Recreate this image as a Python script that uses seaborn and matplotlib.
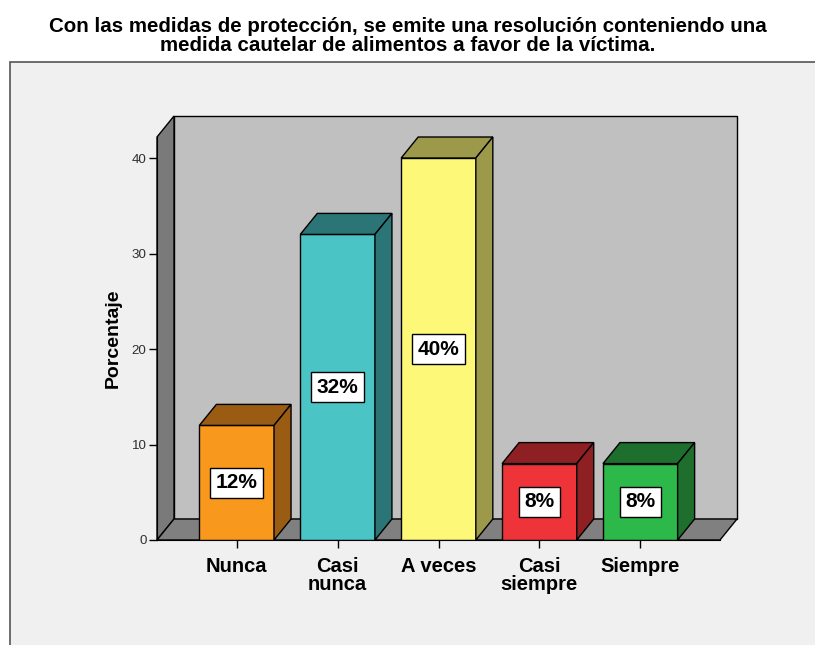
import numpy as np
import pandas as pd
import seaborn as sns
import matplotlib.pyplot as plt
from matplotlib.patches import Polygon, Rectangle

# Data
categories = ["Nunca", "Casi\nnunca", "A veces", "Casi\nsiempre", "Siempre"]
percentages = [12, 32, 40, 8, 8]
front_colors = ["#f8991d", "#4bc4c6", "#fdf877", "#ef3439", "#2db84a"]
shade_colors = ["#9a5c12", "#2b7576", "#9c9a4a", "#8e1f22", "#1e6f2e"]
yticks = [0, 10, 20, 30, 40]

title = ("Con las medidas de protección, se emite una resolución conteniendo una\n"
         "medida cautelar de alimentos a favor de la víctima.")

sns.set_style("white")
plt.rcParams["font.family"] = ["Liberation Sans", "DejaVu Sans"]
plt.rcParams["text.color"] = "black"
plt.rcParams["axes.labelcolor"] = "black"

data = pd.DataFrame({"categoria": categories, "porcentaje": percentages})

fig = plt.figure(figsize=(8.15, 6.45), dpi=100, facecolor="white")

# outer light gray frame (behind the axes)
fig.patches.append(Rectangle((10 / 815, -0.1), 1.0, (645 - 62) / 645 + 0.1,
                             transform=fig.transFigure, facecolor="#f0f0f0",
                             edgecolor="#555555", linewidth=1.2, zorder=-5))

ax = fig.add_axes([157 / 815, 105 / 645, 563 / 815, 403 / 645])
ax.set_facecolor("none")

sns.barplot(data=data, x="categoria", y="porcentaje", hue="categoria",
            palette=front_colors, legend=False, width=0.74,
            edgecolor="black", linewidth=1, saturation=1, ax=ax)

xmin, xmax = -0.79, 4.79
ytop = 42.2
ax.set_xlim(xmin, xmax)
ax.set_ylim(0, ytop)

# depth offset in data units (about 17 px right, 21 px up)
dx = 17 * (xmax - xmin) / 563
dy = 21 * ytop / 403

# walls and floor
back = Polygon([(xmin + dx, dy), (xmax + dx, dy), (xmax + dx, ytop + dy), (xmin + dx, ytop + dy)],
               closed=True, facecolor="#c0c0c0", edgecolor="black", linewidth=1,
               clip_on=False, zorder=0.2)
left = Polygon([(xmin, 0), (xmin + dx, dy), (xmin + dx, ytop + dy), (xmin, ytop)],
               closed=True, facecolor="#7a7a7a", edgecolor="black", linewidth=1,
               clip_on=False, zorder=0.3)
floor = Polygon([(xmin, 0), (xmax, 0), (xmax + dx, dy), (xmin + dx, dy)],
                closed=True, facecolor="#808080", edgecolor="black", linewidth=1,
                clip_on=False, zorder=0.3)
for p in (back, left, floor):
    ax.add_patch(p)

# 3D top and side faces + value labels
for bar, shade, val in zip(ax.patches[:len(percentages)], shade_colors, percentages):
    x0 = bar.get_x()
    w = bar.get_width()
    h = bar.get_height()
    top = Polygon([(x0, h), (x0 + w, h), (x0 + w + dx, h + dy), (x0 + dx, h + dy)],
                  closed=True, facecolor=shade, edgecolor="black", linewidth=1,
                  clip_on=False, zorder=1.1)
    side = Polygon([(x0 + w, 0), (x0 + w + dx, dy), (x0 + w + dx, h + dy), (x0 + w, h)],
                   closed=True, facecolor=shade, edgecolor="black", linewidth=1,
                   clip_on=False, zorder=1.1)
    ax.add_patch(top)
    ax.add_patch(side)
    ax.text(x0 + w / 2, h / 2, f"{val}%", ha="center", va="center",
            fontsize=15, fontweight="bold", color="black", zorder=3,
            bbox=dict(boxstyle="square,pad=0.27", facecolor="white",
                      edgecolor="black", linewidth=1))

sns.despine(ax=ax, top=True, right=True)
ax.spines["left"].set_color("black")
ax.spines["bottom"].set_color("black")
ax.spines["left"].set_zorder(2)
ax.spines["bottom"].set_zorder(2)

ax.set_yticks(yticks)
ax.set_yticklabels([str(t) for t in yticks], fontsize=9.6, color="#303030")
ax.tick_params(axis="y", direction="out", length=6, width=1, color="black", pad=1.5, left=True)
ax.tick_params(axis="x", direction="out", length=6, width=1, color="black", pad=6, bottom=True,
               labelsize=14.5, labelcolor="black")
for lab in ax.get_xticklabels():
    lab.set_linespacing(0.95)
    lab.set_fontweight("bold")

ax.set_xlabel("")
ax.set_ylabel("Porcentaje", fontsize=14, fontweight="bold")
ax.yaxis.set_label_coords(-0.062, 0.5)

fig.text(0.5, 1 - 36 / 645, title, ha="center", va="center", fontsize=14.8,
         fontweight="bold", linespacing=1.05)

fig.savefig("out.png", dpi=100)
plt.close(fig)
